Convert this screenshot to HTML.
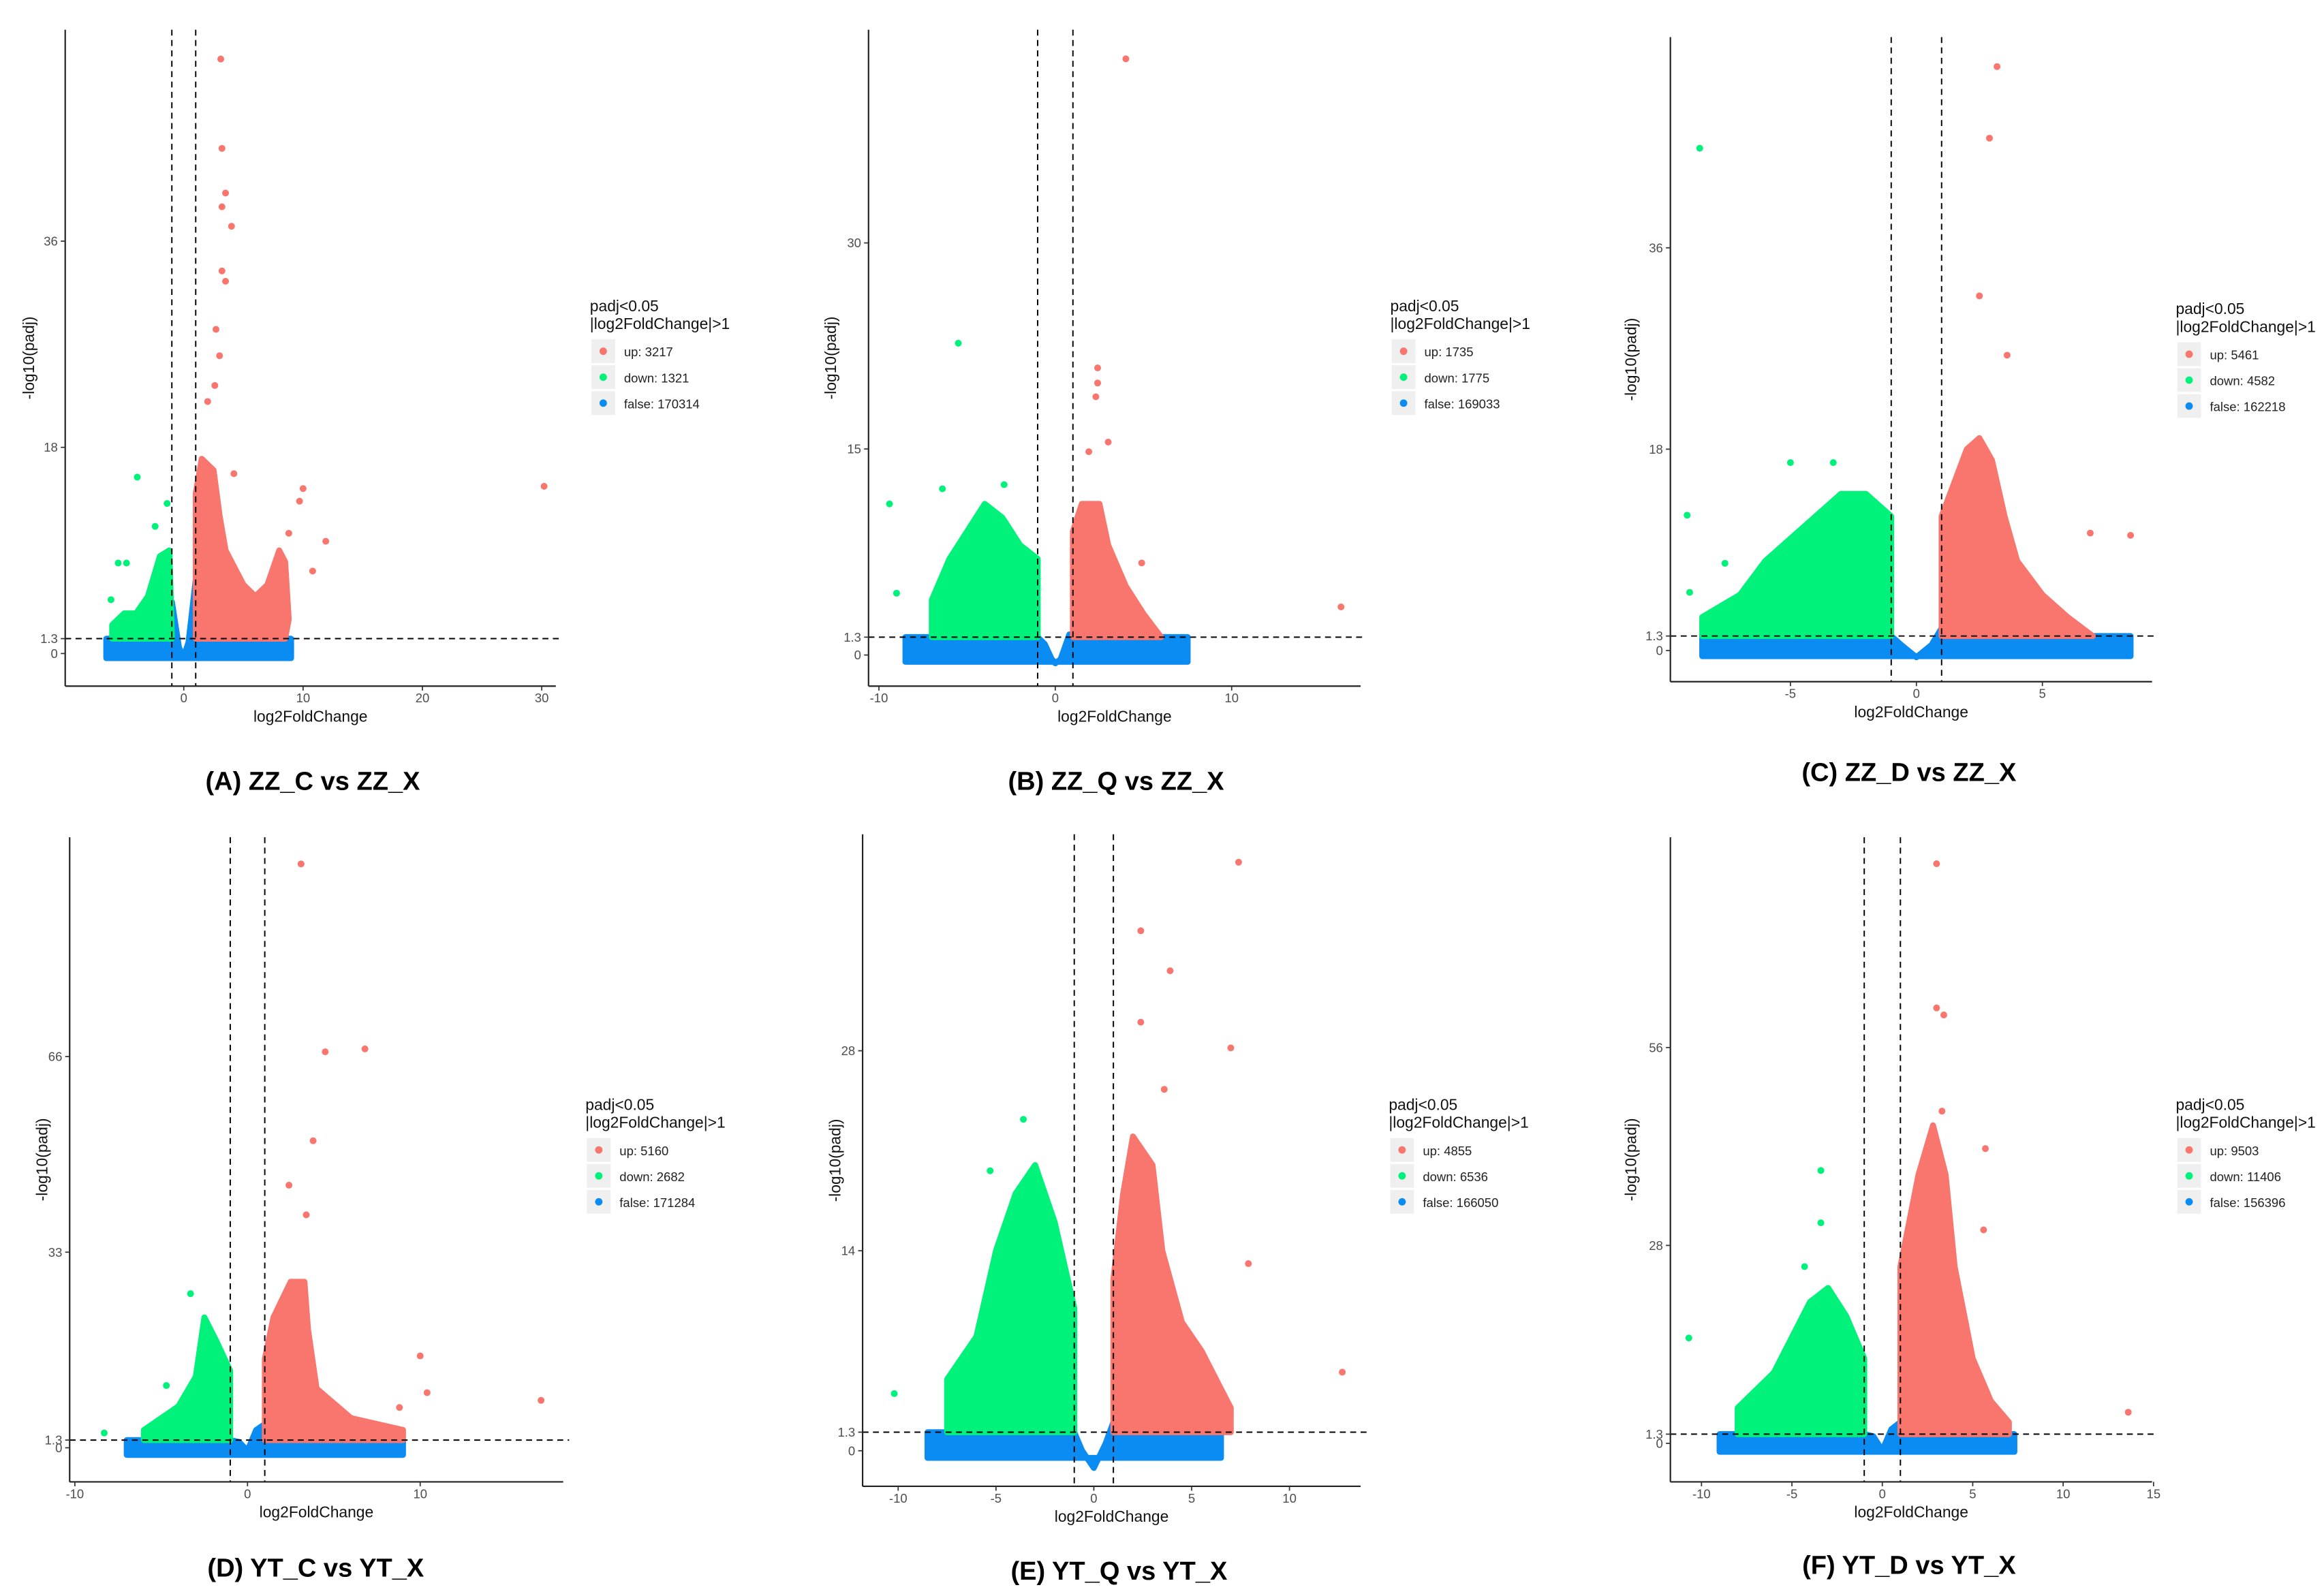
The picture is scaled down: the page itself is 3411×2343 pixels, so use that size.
<!DOCTYPE html>
<html><head><meta charset="utf-8">
<style>
html,body{margin:0;padding:0;background:#fff;}
svg{display:block;font-family:"Liberation Sans",sans-serif;}
</style></head>
<body>
<svg id="fig" width="3411" height="2343" viewBox="0 0 1568 1077" xmlns="http://www.w3.org/2000/svg"></svg>
<script>
// ---------- DATA (log2FoldChange, -log10(padj)) ----------
const titles = ["(A) ZZ_C vs ZZ_X","(B) ZZ_Q vs ZZ_X","(C) ZZ_D vs ZZ_X","(D) YT_C vs YT_X","(E) YT_Q vs YT_X","(F) YT_D vs YT_X"];
const upCounts = [3217,1735,5461,5160,4855,9503];
const downCounts = [1321,1775,4582,2682,6536,11406];
const falseCounts = [170314,169033,162218,171284,166050,156396];
const xTicksA=[0,10,20,30], yTicksA=[0,1.3,18,36];
const xTicksB=[-10,0,10], yTicksB=[0,1.3,15,30];
const xTicksC=[-5,0,5], yTicksC=[0,1.3,18,36];
const xTicksD=[-10,0,10], yTicksD=[0,1.3,33,66];
const xTicksE=[-10,-5,0,5,10], yTicksE=[0,1.3,14,28];
const xTicksF=[-10,-5,0,5,10,15], yTicksF=[0,1.3,28,56];

const upPtsA=[[3.1,51.9],[3.2,44.1],[3.5,40.2],[3.2,39],[4,37.3],[3.2,33.4],[3.5,32.5],[2.7,28.3],[3,26],[2.6,23.4],[2,22],[4.2,15.7],[1.7,12.7],[10,14.4],[9.7,13.3],[8.8,10.5],[11.9,9.8],[10.8,7.2],[30.2,14.6],[8.2,5.3]];
const downPtsA=[[-3.9,15.4],[-1.4,13.1],[-2.4,11.1],[-4.8,7.9],[-5.5,7.9],[-6.1,4.7]];
const upCloudA=[[1,1.3],[1,14],[1.5,17],[2.5,16],[3,12],[3.5,9],[5,6],[6,5],[7,6],[8,9],[8.5,8],[8.8,3],[8.5,1.3]];
const downCloudA=[[-6,1.3],[-6,2.5],[-5,3.5],[-4,3.5],[-3,5],[-2,8.5],[-1.2,9],[-1,1.3]];
const falseCloudA=[[-6.5,-0.4],[-6.5,1.3],[-1.2,1.3],[-1,4.5],[-0.4,0.5],[0,-0.3],[0.4,1],[1,6.5],[1,1.3],[9,1.3],[9,-0.4]];

const upPtsB=[[4,43.4],[2.4,20.9],[2.4,19.8],[2.3,18.8],[3,15.5],[1.9,14.8],[16.2,3.5],[4.9,6.7]];
const downPtsB=[[-5.5,22.7],[-9.4,11],[-6.4,12.1],[-2.9,12.4],[-9,4.5]];
const upCloudB=[[1,1.3],[1,9],[1.5,11],[2.5,11],[3,8],[4,5],[5,3],[6,1.3]];
const downCloudB=[[-7,1.3],[-7,4],[-6,7],[-5,9],[-4,11],[-3,10],[-2,8],[-1,7],[-1,1.3]];
const falseCloudB=[[-8.5,-0.5],[-8.5,1.3],[-1,1.3],[-0.6,0.8],[-0.2,-0.3],[0,-0.6],[0.3,-0.3],[0.8,1.5],[1,1.3],[7.5,1.3],[7.5,-0.5]];

const upPtsC=[[3.2,52.2],[2.9,45.8],[2.5,31.7],[3.6,26.4],[6.9,10.5],[8.5,10.3]];
const downPtsC=[[-8.6,44.9],[-9.1,12.1],[-5,16.8],[-3.3,16.8],[-7.6,7.8],[-9,5.2]];
const upCloudC=[[1,1.3],[1,12],[1.5,15],[2,18],[2.5,19],[3,17],[3.5,12],[4,8],[5,5],[6,3],[7,1.3]];
const downCloudC=[[-8.5,1.3],[-8.5,3],[-7,5],[-6,8],[-5,10],[-4,12],[-3,14],[-2,14],[-1,12],[-1,1.3]];
const falseCloudC=[[-8.5,-0.5],[-8.5,1.3],[-1,1.3],[-0.6,0.5],[0,-0.6],[0.6,0.5],[1,2],[1,1.3],[8.5,1.3],[8.5,-0.5]];

const upPtsD=[[3.1,98.5],[4.5,66.8],[6.8,67.3],[3.8,51.8],[2.4,44.3],[3.4,39.3],[10,15.5],[10.4,9.3],[17,8],[8.8,6.8]];
const downPtsD=[[-3.3,26],[-8.3,2.5],[-4.7,10.5]];
const upCloudD=[[1,1.3],[1,15],[1.5,22],[2.5,28],[3.3,28],[3.5,20],[4,10],[6,5],[9,3],[9,1.3]];
const downCloudD=[[-6,1.3],[-6,3],[-4,7],[-3,12],[-2.5,22],[-1.8,18],[-1,13],[-1,1.3]];
const falseCloudD=[[-7,-1.2],[-7,1.3],[-1,1.3],[-0.5,1],[0,-0.5],[0.5,3],[1,4],[1,1.3],[9,1.3],[9,-1.2]];

const upPtsE=[[7.4,41.2],[2.4,36.4],[2.4,30],[7,28.2],[3.6,25.3],[7.9,13.1],[12.7,5.5],[3.9,33.6]];
const downPtsE=[[-3.6,23.2],[-10.2,4],[-5.3,19.6]];
const upCloudE=[[1,1.3],[1,12],[1.5,18],[2,22],[3,20],[3.5,14],[4.5,9],[5.5,7],[7,3],[7,1.3]];
const downCloudE=[[-7.5,1.3],[-7.5,5],[-6,8],[-5,14],[-4,18],[-3,20],[-2,16],[-1,10],[-1,1.3]];
const falseCloudE=[[-8.5,-0.5],[-8.5,1.3],[-1,1.3],[-0.6,0],[0,-1.2],[0.6,0.5],[1,2],[1,1.3],[6.5,1.3],[6.5,-0.5]];

const upPtsF=[[3,82],[3,61.6],[3.4,60.6],[3.3,47],[5.7,41.7],[13.6,4.4],[5.6,30.2]];
const downPtsF=[[-3.4,38.6],[-3.4,31.2],[-10.7,14.9],[-4.3,25]];
const upCloudF=[[1,1.3],[1,25],[2,38],[2.8,45],[3.5,38],[4,25],[5,12],[6,6],[7,3],[7,1.3]];
const downCloudF=[[-8,1.3],[-8,5],[-6,10],[-4,20],[-3,22],[-2,18],[-1,12],[-1,1.3]];
const falseCloudF=[[-9,-1.2],[-9,1.3],[-1,1.3],[-0.5,1],[0,-1],[0.5,2],[1,3],[1,1.3],[7.3,1.3],[7.3,-1.2]];

// ---------- LAYOUT ----------
const NS="http://www.w3.org/2000/svg";
const svg=document.getElementById('fig');
function mk(tag,attrs,parent){const e=document.createElementNS(NS,tag);for(const k in attrs)e.setAttribute(k,attrs[k]);(parent||svg).appendChild(e);return e;}
const COL={up:"#F8766D",down:"#00F27A",fals:"#0B8CF3"};
const panels=[
 {key:"a",ax:44,top:20,bot:463,right:375,x0:124,xs:8.05,y0:441,ys:7.73,xt:xTicksA,yt:yTicksA,lx:398,ly:207,tx:211,ty:527,ytx:19,up:upPtsA,dn:downPtsA,uc:upCloudA,dc:downCloudA,fc:falseCloudA},
 {key:"b",ax:586,top:20,bot:463,right:918,x0:712,xs:11.9,y0:442,ys:9.27,xt:xTicksB,yt:yTicksB,lx:938,ly:207,tx:753,ty:527,ytx:560,up:upPtsB,dn:downPtsB,uc:upCloudB,dc:downCloudB,fc:falseCloudB},
 {key:"c",ax:1127,top:25,bot:460,right:1452,x0:1293,xs:17,y0:439,ys:7.55,xt:xTicksC,yt:yTicksC,lx:1468,ly:209,tx:1288,ty:521,ytx:1100,up:upPtsC,dn:downPtsC,uc:upCloudC,dc:downCloudC,fc:falseCloudC},
 {key:"d",ax:47,top:565,bot:1000,right:380,x0:167,xs:11.65,y0:977,ys:4.0,xt:xTicksD,yt:yTicksD,lx:395,ly:746,tx:213,ty:1058,ytx:28,up:upPtsD,dn:downPtsD,uc:upCloudD,dc:downCloudD,fc:falseCloudD},
 {key:"e",ax:582,top:563,bot:1003,right:918,x0:738,xs:13.2,y0:979,ys:9.64,xt:xTicksE,yt:yTicksE,lx:937,ly:746,tx:755,ty:1060,ytx:563,up:upPtsE,dn:downPtsE,uc:upCloudE,dc:downCloudE,fc:falseCloudE},
 {key:"f",ax:1127,top:565,bot:1000,right:1452,x0:1270,xs:12.2,y0:974,ys:4.77,xt:xTicksF,yt:yTicksF,lx:1468,ly:746,tx:1288,ty:1056,ytx:1100,up:upPtsF,dn:downPtsF,uc:upCloudF,dc:downCloudF,fc:falseCloudF}
];
panels.forEach((p,i)=>{
 const g=mk('g',{});
 
 
 const X=v=>p.x0+v*p.xs, Y=v=>p.y0-v*p.ys;
 function cloud(pts,col,name){
  const e=mk('polygon',{points:pts.map(q=>X(q[0]).toFixed(1)+','+Y(q[1]).toFixed(1)).join(' '),fill:col,stroke:col,'stroke-width':4,'stroke-linejoin':'round'},g);
  
  
 }
 cloud(p.fc,COL.fals,'false-cloud');
 cloud(p.dc,COL.down,'down-cloud');
 cloud(p.uc,COL.up,'up-cloud');
 p.dn.forEach(q=>{const c=mk('circle',{cx:X(q[0]),cy:Y(q[1]),r:2.3,fill:COL.down},g);
  
  });
 p.up.forEach(q=>{const c=mk('circle',{cx:X(q[0]),cy:Y(q[1]),r:2.3,fill:COL.up},g);
  
  });
 [-1,1].forEach(v=>{const l=mk('line',{x1:X(v),x2:X(v),y1:p.top,y2:p.bot,stroke:'#000','stroke-width':0.9,'stroke-dasharray':'4,3'},g);
  
  });
 const h=mk('line',{x1:p.ax,x2:p.right+4,y1:Y(1.3),y2:Y(1.3),stroke:'#000','stroke-width':0.9,'stroke-dasharray':'4,3'},g);
 
 
 const ya=mk('line',{x1:p.ax,x2:p.ax,y1:p.top,y2:p.bot,stroke:'#222','stroke-width':1},g);
 
 
 const xa=mk('line',{x1:p.ax,x2:p.right,y1:p.bot,y2:p.bot,stroke:'#222','stroke-width':1},g);
 
 
 p.xt.forEach(v=>{mk('line',{x1:X(v),x2:X(v),y1:p.bot,y2:p.bot+3,stroke:'#333','stroke-width':0.8},g);
  const t=mk('text',{x:X(v),y:p.bot+11,'font-size':8.5,fill:'#4d4d4d','text-anchor':'middle'},g);t.textContent=v;
  
  });
 p.yt.forEach(v=>{mk('line',{x1:p.ax-3,x2:p.ax,y1:Y(v),y2:Y(v),stroke:'#333','stroke-width':0.8},g);
  const t=mk('text',{x:p.ax-5,y:Y(v)+3,'font-size':8.5,fill:'#4d4d4d','text-anchor':'end'},g);t.textContent=v;
  
  });
 const xt=mk('text',{x:(p.ax+p.right)/2,y:p.bot+24,'font-size':10.5,fill:'#111','text-anchor':'middle'},g);xt.textContent='log2FoldChange';
 
 
 const cy=(p.top+p.bot)/2;
 const yt=mk('text',{x:p.ytx,y:cy,'font-size':10.5,fill:'#111','text-anchor':'middle',transform:`rotate(-90 ${p.ytx} ${cy})`,dy:4},g);yt.textContent='-log10(padj)';
 
 
 const lg=mk('g',{},g);
 
 
 const l1=mk('text',{x:p.lx,y:p.ly+3,'font-size':10.5,fill:'#111'},lg);l1.textContent='padj<0.05';
 const l2=mk('text',{x:p.lx,y:p.ly+15,'font-size':10.5,fill:'#111'},lg);l2.textContent='|log2FoldChange|>1';
 const items=[['up: '+upCounts[i],COL.up],['down: '+downCounts[i],COL.down],['false: '+falseCounts[i],COL.fals]];
 items.forEach((it,k)=>{const yy=p.ly+22+k*17.5;
  const e=mk('g',{},lg);
  
  
  mk('rect',{x:p.lx+1,y:yy,width:16,height:16,fill:'#efefef'},e);
  mk('circle',{cx:p.lx+9,cy:yy+8,r:2.5,fill:it[1]},e);
  const t=mk('text',{x:p.lx+23,y:yy+11.5,'font-size':8.5,fill:'#222'},e);t.textContent=it[0];});
 const pt=mk('text',{x:p.tx,y:p.ty+6,'font-size':17.5,'font-weight':'bold',fill:'#000','text-anchor':'middle'},g);pt.textContent=titles[i];
 
 
});
</script>
</body></html>
